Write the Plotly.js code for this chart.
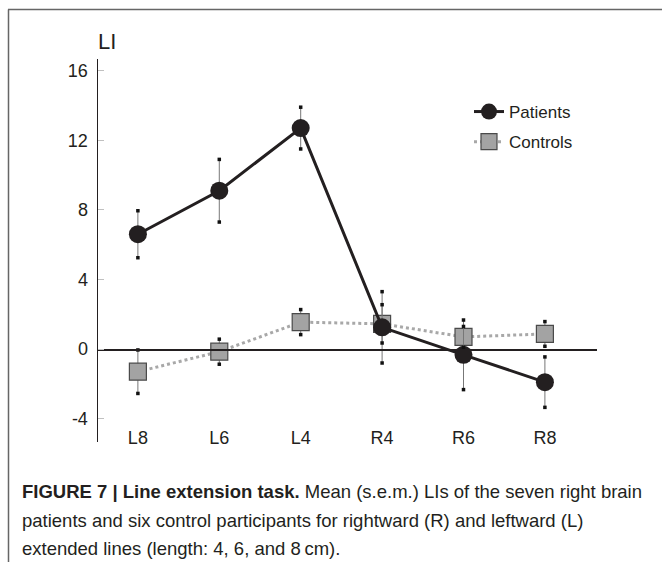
<!DOCTYPE html>
<html>
<head>
<meta charset="utf-8">
<script src="https://cdn.plot.ly/plotly-3.0.1.min.js"></script>
<style>html,body{margin:0;padding:0;background:#fff;}#chart{width:662px;height:562px;}</style>
</head>
<body>
<div id="chart"></div>
<script>
var categories = ['L8', 'L6', 'L4', 'R4', 'R6', 'R8'];
var patientsMean = [6.6, 9.1, 12.7, 1.25, -0.33, -1.9];
var patientsSem = [1.35, 1.8, 1.2, 2.05, 2.0, 1.45];
var controlsMean = [-1.3, -0.15, 1.55, 1.45, 0.7, 0.87];
var controlsSem = [1.25, 0.72, 0.72, 1.1, 0.6, 0.71];
var yTicks = [-4, 0, 4, 8, 12, 16];
var yTickLabels = ['-4', '0', '4', '8', '12', '16'];
var yTitle = 'LI';
var seriesNames = ['Patients', 'Controls'];
var captionLines = [
  '<b>FIGURE 7 | Line extension task.</b> Mean (s.e.m.) LIs of the seven right brain',
  'patients and six control participants for rightward (R) and leftward (L)',
  'extended lines (length: 4, 6, and 8\u2009cm).'
];

var W = 662, H = 562;
var M = {l: 98, r: 65, t: 59, b: 120};
var PW = W - M.l - M.r, PH = H - M.t - M.b;
function px(x) { return (x - M.l) / PW; }
function py(y) { return (H - M.b - y) / PH; }

var yRange = [-5.34, 16.67];
var FONT = '"Liberation Sans", Arial, Helvetica, sans-serif';

function caps(mean, sem) {
  var xs = [], ys = [];
  for (var i = 0; i < mean.length; i++) {
    xs.push(categories[i]); ys.push(mean[i] + sem[i]);
    xs.push(categories[i]); ys.push(mean[i] - sem[i]);
  }
  return {x: xs, y: ys};
}
var pc = caps(patientsMean, patientsSem);
var cc = caps(controlsMean, controlsSem);

var traces = [
  {
    x: categories, y: controlsMean, name: seriesNames[1], type: 'scatter', mode: 'lines+markers',
    legendrank: 2, legendgroup: 'c',
    line: {color: '#a8a8a8', width: 3, dash: 'dot'},
    marker: {symbol: 'square', size: 17, color: '#a3a3a3', line: {color: '#4a4a4a', width: 1.2}},
    error_y: {type: 'data', array: controlsSem, visible: true, color: '#777', thickness: 1, width: 0},
    hoverinfo: 'skip'
  },
  {
    x: categories, y: patientsMean, name: seriesNames[0], type: 'scatter', mode: 'lines+markers',
    legendrank: 1, legendgroup: 'p',
    line: {color: '#231f20', width: 3},
    marker: {symbol: 'circle', size: 18, color: '#231f20'},
    error_y: {type: 'data', array: patientsSem, visible: true, color: '#777', thickness: 1, width: 0},
    hoverinfo: 'skip'
  },
  {
    x: cc.x, y: cc.y, type: 'scatter', mode: 'markers', showlegend: false, hoverinfo: 'skip',
    marker: {symbol: 'square', size: 3.5, color: '#111'}
  },
  {
    x: pc.x, y: pc.y, type: 'scatter', mode: 'markers', showlegend: false, hoverinfo: 'skip',
    marker: {symbol: 'square', size: 3.5, color: '#111'}
  }
];

var ann = [
  {xref: 'paper', yref: 'paper', x: px(96), y: py(42), xanchor: 'left', yanchor: 'middle',
   text: yTitle, showarrow: false, font: {family: FONT, size: 22, color: '#231f20'}}
];
var capY = [491, 520, 548];
for (var i = 0; i < captionLines.length; i++) {
  ann.push({xref: 'paper', yref: 'paper', x: px(20), y: py(capY[i]), xanchor: 'left', yanchor: 'middle',
    text: captionLines[i], showarrow: false, align: 'left',
    font: {family: FONT, size: 18.5, color: '#231f20'}});
}

var layout = {
  width: W, height: H,
  margin: M,
  paper_bgcolor: '#fff', plot_bgcolor: 'rgba(0,0,0,0)',
  font: {family: FONT, size: 17, color: '#231f20'},
  showlegend: true,
  legend: {x: px(469), y: py(94), xanchor: 'left', yanchor: 'top', bgcolor: 'rgba(0,0,0,0)',
           traceorder: 'grouped', tracegroupgap: 5, font: {family: FONT, size: 17, color: '#231f20'}},
  xaxis: {
    type: 'category', range: [-0.49, 5.64], anchor: 'free',
    position: (0 - yRange[0]) / (yRange[1] - yRange[0]),
    showline: true, linecolor: '#231f20', linewidth: 1.5, showgrid: false, zeroline: false,
    ticks: 'outside', ticklen: 72, tickcolor: 'rgba(0,0,0,0)',
    tickfont: {family: FONT, size: 18, color: '#231f20'}, fixedrange: true
  },
  yaxis: {
    range: yRange, tickvals: yTicks, ticktext: yTickLabels, showline: true, linecolor: '#231f20', linewidth: 1.5,
    showgrid: false, zeroline: false, ticks: 'inside', ticklen: 6, tickcolor: '#c0c0c0', tickwidth: 1,
    ticklabelstandoff: 5, tickfont: {family: FONT, size: 18, color: '#231f20'}, fixedrange: true
  },
  annotations: ann,
  shapes: [
    {type: 'line', xref: 'paper', yref: 'paper', x0: px(8), x1: px(662), y0: py(9.5), y1: py(9.5),
     line: {color: '#666', width: 1.5}},
    {type: 'line', xref: 'paper', yref: 'paper', x0: px(8.5), x1: px(8.5), y0: py(9.5), y1: py(562),
     line: {color: '#666', width: 1.5}}
  ]
};

Plotly.newPlot('chart', traces, layout, {displayModeBar: false, staticPlot: true});
</script>
</body>
</html>
